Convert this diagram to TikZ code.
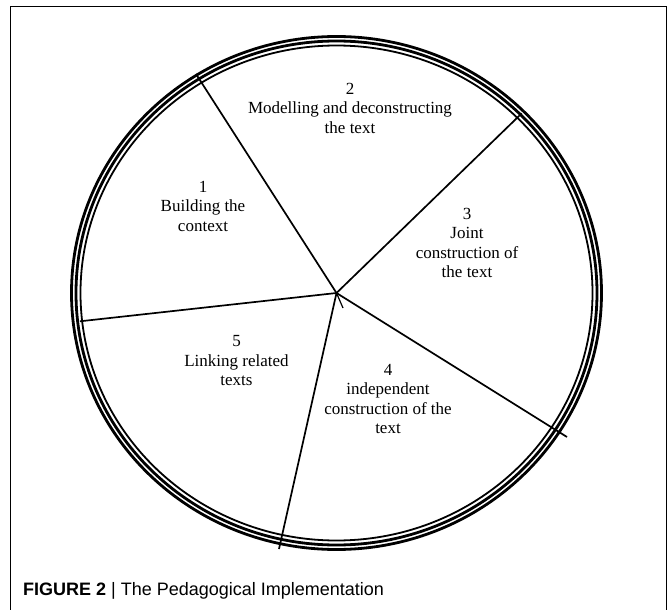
\documentclass[tikz,border=0pt]{standalone}
\usepackage{fontspec}
\setmainfont{Liberation Serif}
\newfontfamily\capfont{Liberation Sans}
\begin{document}
\begin{tikzpicture}[x=1pt,y=-1pt,
  label/.style={align=center,inner sep=0pt,font=\fontsize{17}{19.5}\selectfont},
  spoke/.style={line width=1.7pt},
  frame/.style={line width=1.2pt}]
\useasboundingbox (0,0) rectangle (670,610);
% frame
\coordinate (fbl) at (10.5,612);
\coordinate (ftl) at (10.5,6.5);
\coordinate (ftr) at (666.5,6.5);
\coordinate (fbr) at (666.5,612);
\draw[frame] (fbl) -- (ftl) -- (ftr) -- (fbr);
% ring
\coordinate (c) at (336.5,293);
\draw[line width=2.8pt] (c) ellipse [x radius=265pt, y radius=256.5pt];
\draw[line width=2.8pt] (c) ellipse [x radius=260.5pt, y radius=252pt];
\draw[line width=1.8pt] (c) ellipse [x radius=256pt, y radius=247.5pt];
% spokes
\coordinate (e1) at (196,74);
\coordinate (e2) at (521.7,113.4);
\coordinate (e3) at (567,437);
\coordinate (e4) at (279,549);
\coordinate (e5) at (80,321.3);
\coordinate (tk) at (343,308);
\foreach \e in {e1,e2,e3,e4,e5} \draw[spoke] (c) -- (\e);
\draw[line width=1.2pt] (c) -- (tk);
% labels
\node[label] (n2) at (350,108) {2\\Modelling and deconstructing\\the text};
\node[label] (n1) at (203,206) {1\\Building the\\context};
\node[label] (n3) at (467,243) {3\\Joint\\construction of\\the text};
\node[label] (n4) at (388,399) {4\\independent\\construction of the\\text};
\node[label] (n5) at (236.5,361) {5\\Linking related\\texts};
% caption
\node[anchor=base west,inner sep=0pt,font=\capfont\fontsize{18}{21}\selectfont] (cap) at (23,595)
  {\textbf{FIGURE 2} | The Pedagogical Implementation};
\end{tikzpicture}
\end{document}
